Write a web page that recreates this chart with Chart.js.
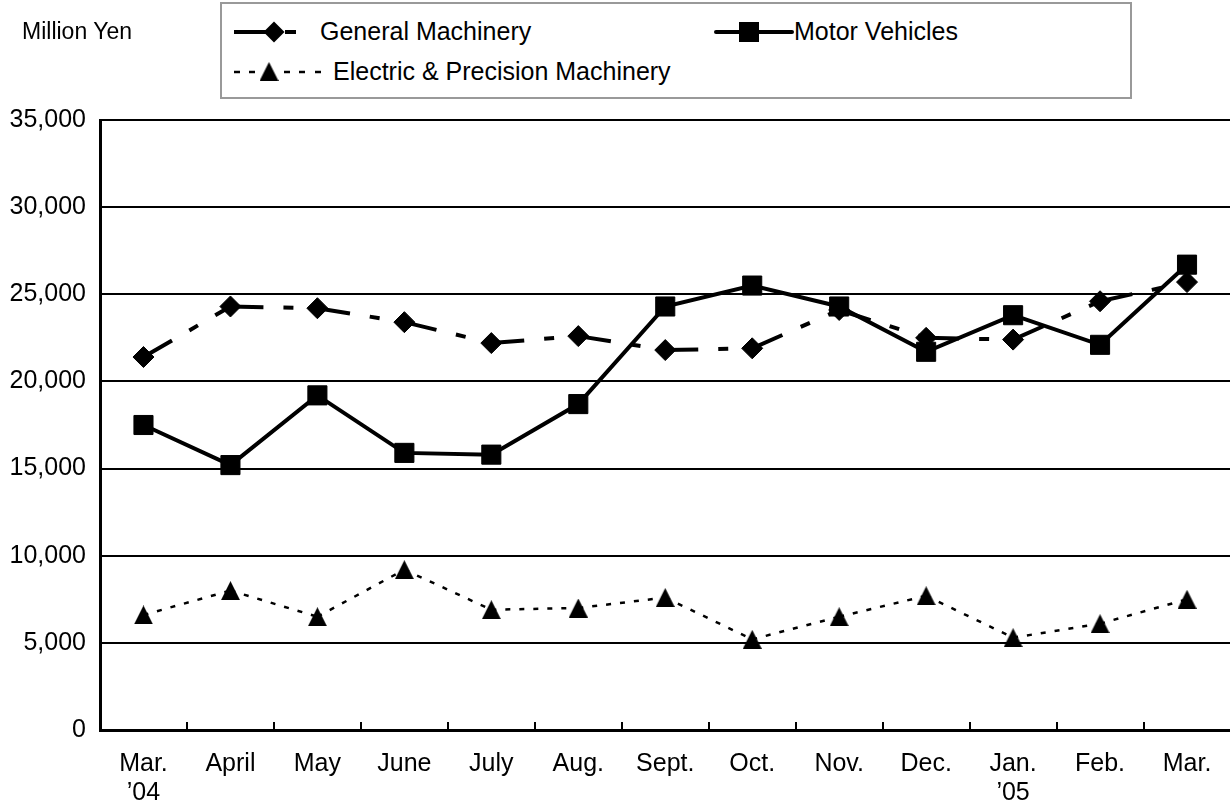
<!DOCTYPE html>
<html>
<head>
<meta charset="utf-8">
<script src="https://cdn.jsdelivr.net/npm/chart.js@4/dist/chart.umd.min.js"></script>
<style>
    html, body { margin: 0; padding: 0; background: #fff; overflow: hidden; }
    #wrap { position: relative; width: 1245px; height: 801px; font-family: 'Liberation Sans', Arial, sans-serif; color: #000; }
    #chart { position: absolute; left: 0; top: 0; }
    #unit { position: absolute; left: 22px; top: 18px; font-size: 23px; }
    #legend { position: absolute; left: 220px; top: 2px; width: 908px; height: 93px; border: 2px solid #999; background: #fff; }
    #legend canvas, #legend span { position: absolute; }
    #legend span { font-size: 25px; line-height: 28px; white-space: nowrap; }
</style>
</head>
<body>
<div id="wrap">
    <canvas id="chart" width="1245" height="801"></canvas>
    <div id="unit">Million Yen</div>
    <div id="legend">
        <canvas id="sw-general" width="80" height="26" style="left:10px;top:15px"></canvas>
        <span style="left:98px;top:13px">General Machinery</span>
        <canvas id="sw-motor" width="80" height="26" style="left:492px;top:15px"></canvas>
        <span style="left:572px;top:13px">Motor Vehicles</span>
        <canvas id="sw-electric" width="100" height="26" style="left:10px;top:55px"></canvas>
        <span style="left:111px;top:53px">Electric &amp; Precision Machinery</span>
    </div>
</div>
<script>
// values (million yen)
const months = [['Mar.', '’04'], 'April', 'May', 'June', 'July', 'Aug.', 'Sept.', 'Oct.', 'Nov.', 'Dec.', ['Jan.', '’05'], 'Feb.', 'Mar.'];
const generalMachinery = [21400, 24300, 24200, 23400, 22200, 22600, 21800, 21900, 24100, 22500, 22400, 24600, 25700];
const motorVehicles = [17500, 15200, 19200, 15900, 15800, 18700, 24300, 25500, 24300, 21700, 23800, 22100, 26700];
const electricPrecision = [6600, 8000, 6500, 9200, 6900, 7000, 7600, 5200, 6500, 7700, 5300, 6100, 7500];
const yTicks = [0, 5000, 10000, 15000, 20000, 25000, 30000, 35000];

const FONT = "'Liberation Sans', Arial, sans-serif";
const dashGeneral = [33, 20, 10, 20];
const dashElectric = [5, 9];
const sum = a => a.reduce((x, y) => x + y, 0);

// Excel-style triangle marker (as tall as it is wide)
function triangleMarker(w, h) {
    const c = document.createElement('canvas');
    c.width = w; c.height = h;
    const g = c.getContext('2d');
    g.fillStyle = '#000';
    g.beginPath();
    g.moveTo(w / 2, 0);
    g.lineTo(w, h);
    g.lineTo(0, h);
    g.closePath();
    g.fill();
    return c;
}
const tri = triangleMarker(19, 19);

// restart the dash pattern at each point, the way the original does
function restartDash(pattern) {
    const len = sum(pattern);
    return { borderDashOffset: ctx => (ctx.p0DataIndex % 2 ? len : 0) };
}

new Chart(document.getElementById('chart'), {
    type: 'line',
    data: {
        labels: months,
        datasets: [
            {
                label: 'General Machinery',
                data: generalMachinery,
                borderColor: '#000',
                borderWidth: 4,
                borderDash: dashGeneral,
                segment: restartDash(dashGeneral),
                pointStyle: 'rectRot',
                pointRadius: 10.5,
                pointBackgroundColor: '#000',
                pointBorderColor: '#000',
                pointBorderWidth: 1,
                tension: 0
            },
            {
                label: 'Motor Vehicles',
                data: motorVehicles,
                borderColor: '#000',
                borderWidth: 4,
                pointStyle: 'rect',
                pointRadius: 13.5,
                pointBackgroundColor: '#000',
                pointBorderColor: '#000',
                pointBorderWidth: 1,
                tension: 0
            },
            {
                label: 'Electric & Precision Machinery',
                data: electricPrecision,
                borderColor: '#000',
                borderWidth: 2.5,
                borderDash: dashElectric,
                segment: restartDash(dashElectric),
                pointStyle: tri,
                pointRadius: 10,
                tension: 0
            }
        ]
    },
    options: {
        responsive: false,
        animation: false,
        events: [],
        layout: { padding: { left: 0, top: 120, right: 5, bottom: 0 } },
        plugins: {
            legend: { display: false },
            tooltip: { enabled: false }
        },
        scales: {
            x: {
                offset: true,
                grid: {
                    offset: true,
                    drawOnChartArea: false,
                    drawTicks: true,
                    tickLength: -8,
                    color: '#000',
                    lineWidth: 2
                },
                border: { color: '#000', width: 3 },
                ticks: {
                    color: '#000',
                    font: { family: FONT, size: 25, lineHeight: 1.17 },
                    padding: 27,
                    maxRotation: 0,
                    autoSkip: false
                },
                afterFit: s => { s.height = 71; }
            },
            y: {
                min: 0,
                max: 35000,
                afterBuildTicks: s => { s.ticks = yTicks.map(v => ({ value: v })); },
                grid: { color: '#000', lineWidth: 2, drawTicks: false },
                border: { color: '#000', width: 3 },
                ticks: {
                    color: '#000',
                    font: { family: FONT, size: 25 },
                    padding: 14,
                    callback: v => v.toLocaleString('en-US')
                },
                afterFit: s => { s.width = 100; }
            }
        }
    }
});

// legend swatches: line sample with the series marker
function swatch(id, draw) {
    const g = document.getElementById(id).getContext('2d');
    g.strokeStyle = '#000';
    g.fillStyle = '#000';
    draw(g);
}
swatch('sw-general', g => {
    g.lineWidth = 4;
    g.beginPath(); g.moveTo(2, 13); g.lineTo(34, 13); g.stroke();
    g.beginPath(); g.moveTo(53, 13); g.lineTo(64, 13); g.stroke();
    g.beginPath();
    g.moveTo(42, 2.5); g.lineTo(52.5, 13); g.lineTo(42, 23.5); g.lineTo(31.5, 13);
    g.closePath(); g.fill();
});
swatch('sw-motor', g => {
    g.lineWidth = 4;
    g.lineCap = 'round';
    g.beginPath(); g.moveTo(2, 13); g.lineTo(78, 13); g.stroke();
    g.fillRect(25, 3, 20, 20);
});
swatch('sw-electric', g => {
    g.lineWidth = 2.5;
    [[2, 8], [17, 23], [52, 58], [67, 73], [83, 89]].forEach(([a, b]) => {
        g.beginPath(); g.moveTo(a, 13); g.lineTo(b, 13); g.stroke();
    });
    g.drawImage(tri, 37 - 9.5, 3);
});
</script>
</body>
</html>
